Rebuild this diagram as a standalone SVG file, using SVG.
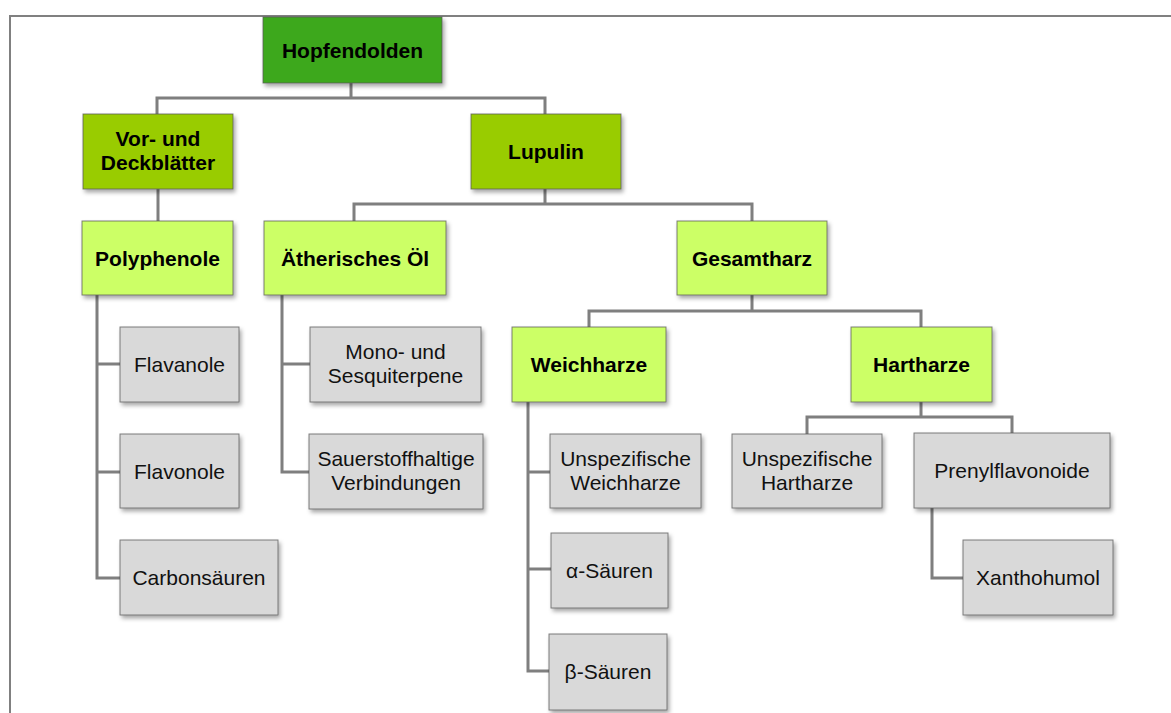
<svg xmlns="http://www.w3.org/2000/svg" width="1171" height="713" viewBox="0 0 1171 713">
<defs>
<filter id="sh" x="-10%" y="-10%" width="130%" height="140%">
<feDropShadow dx="2" dy="3" stdDeviation="2" flood-color="#000" flood-opacity="0.35"/>
</filter>
</defs>
<style>
.box{stroke:#5a5a5a;stroke-opacity:0.75;stroke-width:1;filter:url(#sh)}
.g1{fill:#3DA81C}
.g2{fill:#99CC00}
.g3{fill:#CCFF66}
.gr{fill:#D9D9D9}
.tb{font-family:"Liberation Sans",Arial,sans-serif;font-weight:bold;font-size:21px;fill:#000;text-anchor:middle}
.tr{font-family:"Liberation Sans",Arial,sans-serif;font-size:21px;fill:#111;text-anchor:middle}
.con{fill:none;stroke:#7F7F7F;stroke-width:3}
.frame{fill:none;stroke:#808080;stroke-width:2}
</style>
<rect width="1171" height="713" fill="#fff"/>
<path class="frame" d="M10,713 V16 H1171"/>
<g id="connectors">
<path class="con" d="M351,83 V98 M157,114 V98 H545 V114"/>
<path class="con" d="M158,189 V221"/>
<path class="con" d="M545,189 V204 M354,221 V204 H752 V221"/>
<path class="con" d="M97,295 V578 H120 M97,364 H120 M97,472 H120"/>
<path class="con" d="M282,295 V472 H309 M282,364 H310"/>
<path class="con" d="M752,295 V311 M589,327 V311 H921 V327"/>
<path class="con" d="M528,402 V671 H549 M528,472 H550 M528,569 H551"/>
<path class="con" d="M921,402 V417 M807,434 V417 H1012 V433"/>
<path class="con" d="M932,508 V578 H963"/>
</g>
<g id="n-hopfendolden"><rect class="box g1" x="263" y="17" width="179" height="66"/><text class="tb" x="352.5" y="57.5">Hopfendolden</text></g>
<g id="n-vor"><rect class="box g2" x="83" y="114" width="150" height="75"/><text class="tb" x="158" y="146">Vor- und</text><text class="tb" x="158" y="170">Deckblätter</text></g>
<g id="n-lupulin"><rect class="box g2" x="471" y="114" width="150" height="75"/><text class="tb" x="546" y="159">Lupulin</text></g>
<g id="n-polyphenole"><rect class="box g3" x="82" y="221" width="151" height="74"/><text class="tb" x="157.5" y="265.5">Polyphenole</text></g>
<g id="n-oel"><rect class="box g3" x="264" y="221" width="182" height="74"/><text class="tb" x="355" y="265.5">Ätherisches Öl</text></g>
<g id="n-gesamtharz"><rect class="box g3" x="677" y="221" width="150" height="74"/><text class="tb" x="752" y="265.5">Gesamtharz</text></g>
<g id="n-weichharze"><rect class="box g3" x="512" y="327" width="154" height="75"/><text class="tb" x="589" y="372">Weichharze</text></g>
<g id="n-hartharze"><rect class="box g3" x="851" y="327" width="141" height="75"/><text class="tb" x="921.5" y="372">Hartharze</text></g>
<g id="n-flavanole"><rect class="box gr" x="120" y="327" width="119" height="75"/><text class="tr" x="179.5" y="372">Flavanole</text></g>
<g id="n-flavonole"><rect class="box gr" x="120" y="434" width="119" height="74"/><text class="tr" x="179.5" y="478.5">Flavonole</text></g>
<g id="n-carbonsaeuren"><rect class="box gr" x="120" y="540" width="158" height="75"/><text class="tr" x="199" y="585">Carbonsäuren</text></g>
<g id="n-mono"><rect class="box gr" x="310" y="327" width="171" height="75"/><text class="tr" x="395.5" y="359">Mono- und</text><text class="tr" x="395.5" y="383">Sesquiterpene</text></g>
<g id="n-sauerstoff"><rect class="box gr" x="309" y="434" width="174" height="75"/><text class="tr" x="396" y="466">Sauerstoffhaltige</text><text class="tr" x="396" y="490">Verbindungen</text></g>
<g id="n-uweich"><rect class="box gr" x="550" y="434" width="151" height="74"/><text class="tr" x="625.5" y="465.5">Unspezifische</text><text class="tr" x="625.5" y="489.5">Weichharze</text></g>
<g id="n-alpha"><rect class="box gr" x="551" y="533" width="117" height="75"/><text class="tr" x="609.5" y="578">α-Säuren</text></g>
<g id="n-beta"><rect class="box gr" x="549" y="634" width="118" height="76"/><text class="tr" x="608" y="679">β-Säuren</text></g>
<g id="n-uhart"><rect class="box gr" x="732" y="434" width="150" height="74"/><text class="tr" x="807" y="465.5">Unspezifische</text><text class="tr" x="807" y="489.5">Hartharze</text></g>
<g id="n-prenyl"><rect class="box gr" x="914" y="433" width="196" height="75"/><text class="tr" x="1012" y="478">Prenylflavonoide</text></g>
<g id="n-xantho"><rect class="box gr" x="963" y="540" width="150" height="75"/><text class="tr" x="1038" y="585">Xanthohumol</text></g>
</svg>
